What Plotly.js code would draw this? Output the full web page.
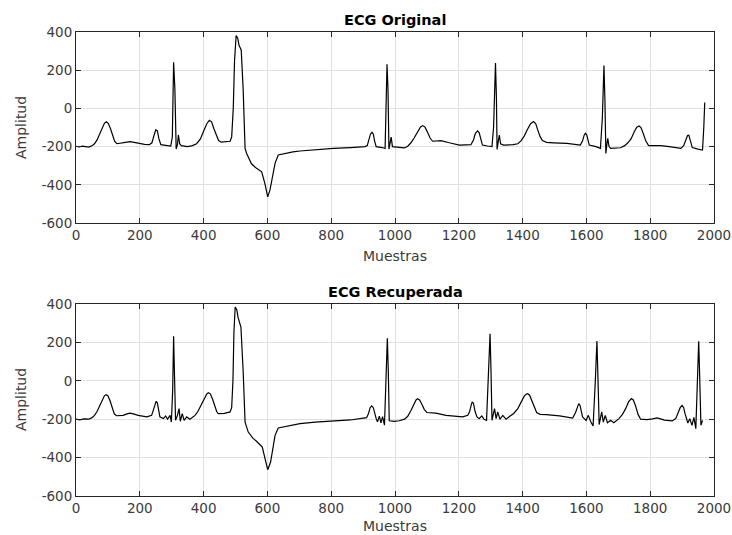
<!DOCTYPE html>
<html><head><meta charset="utf-8">
<script src="https://cdn.plot.ly/plotly-3.0.1.min.js"></script>
<style>html,body{margin:0;padding:0;background:#fff}#chart{width:732px;height:535px}</style>
</head><body><div id="chart"></div>
<script>
// [muestra, amplitud]
const origPts = [[0,-198],[10,-202],[20,-198],[30,-200],[40,-203],[50,-196],[58,-185],[66,-165],[74,-135],[82,-100],[89,-78],[95,-70],[101,-78],[108,-105],[115,-145],[121,-172],[128,-185],[140,-183],[155,-178],[170,-174],[185,-180],[200,-185],[215,-188],[230,-190],[238,-180],[244,-145],[250,-112],[255,-118],[260,-160],[266,-190],[280,-195],[297,-197],[302,-150],[306,242],[310,100],[314,-213],[318,-190],[321,-139],[325,-185],[330,-195],[350,-200],[365,-195],[378,-185],[390,-160],[400,-120],[410,-80],[418,-62],[425,-70],[432,-105],[440,-145],[447,-168],[455,-177],[470,-176],[483,-172],[488,-150],[493,0],[497,250],[502,382],[507,368],[511,330],[515,316],[518,305],[524,100],[530,-209],[535,-236],[550,-290],[566,-314],[582,-332],[592,-393],[601,-463],[608,-428],[616,-350],[624,-288],[634,-244],[650,-238],[680,-228],[702,-223],[750,-215],[807,-209],[860,-205],[906,-200],[913,-195],[918,-170],[923,-135],[928,-125],[932,-135],[936,-170],[941,-200],[960,-205],[969,-210],[975,231],[978,100],[981,-213],[985,-180],[988,-150],[992,-200],[1010,-205],[1029,-207],[1040,-198],[1050,-180],[1060,-155],[1070,-122],[1080,-97],[1087,-90],[1094,-98],[1102,-125],[1110,-155],[1118,-172],[1130,-172],[1144,-169],[1170,-180],[1202,-192],[1238,-190],[1246,-165],[1252,-130],[1259,-118],[1264,-128],[1269,-165],[1274,-192],[1290,-197],[1304,-200],[1309,-100],[1315,237],[1318,50],[1320,-215],[1324,-170],[1327,-140],[1331,-185],[1340,-192],[1370,-190],[1385,-185],[1395,-170],[1405,-145],[1415,-110],[1425,-80],[1434,-69],[1441,-80],[1448,-115],[1455,-148],[1462,-168],[1475,-178],[1497,-180],[1539,-183],[1581,-192],[1588,-170],[1593,-140],[1597,-130],[1601,-138],[1605,-170],[1609,-192],[1630,-200],[1644,-209],[1650,-50],[1655,225],[1658,50],[1661,-236],[1664,-190],[1667,-157],[1671,-200],[1676,-209],[1707,-206],[1720,-195],[1730,-180],[1740,-160],[1750,-122],[1758,-98],[1765,-92],[1771,-100],[1778,-130],[1786,-170],[1795,-195],[1833,-195],[1860,-200],[1896,-209],[1905,-195],[1911,-165],[1917,-142],[1921,-140],[1926,-165],[1932,-205],[1950,-213],[1964,-218],[1968,-100],[1971,31]];
const recPts = [[0,-200],[12,-203],[25,-198],[40,-200],[50,-192],[58,-180],[66,-160],[74,-130],[82,-98],[89,-78],[94,-72],[100,-78],[107,-105],[114,-145],[120,-172],[127,-182],[148,-180],[160,-172],[169,-168],[180,-172],[195,-180],[222,-188],[237,-180],[243,-150],[248,-115],[251,-107],[255,-115],[259,-160],[263,-188],[274,-197],[281,-183],[287,-200],[295,-180],[299,-215],[303,-50],[306,232],[309,50],[312,-206],[318,-180],[323,-145],[327,-211],[333,-171],[339,-206],[347,-188],[357,-200],[365,-192],[373,-180],[382,-160],[392,-125],[402,-88],[410,-68],[415,-62],[421,-68],[428,-95],[435,-135],[441,-160],[446,-171],[465,-170],[483,-162],[488,-140],[492,0],[495,250],[499,384],[504,370],[508,330],[512,306],[517,280],[524,50],[530,-215],[540,-267],[555,-300],[566,-315],[584,-345],[592,-402],[601,-463],[610,-423],[617,-350],[624,-284],[634,-246],[650,-240],[680,-230],[702,-223],[750,-215],[807,-209],[860,-204],[911,-192],[917,-170],[922,-140],[927,-131],[932,-140],[937,-175],[941,-197],[945,-213],[951,-184],[956,-219],[961,-187],[967,-231],[972,0],[976,221],[979,50],[982,-208],[998,-211],[1013,-208],[1030,-200],[1040,-185],[1050,-155],[1060,-120],[1066,-100],[1071,-93],[1077,-100],[1085,-125],[1092,-150],[1100,-165],[1128,-168],[1160,-180],[1212,-188],[1228,-180],[1234,-160],[1239,-125],[1242,-110],[1246,-118],[1251,-160],[1257,-188],[1264,-197],[1272,-183],[1279,-200],[1287,-206],[1293,0],[1298,245],[1301,50],[1304,-206],[1312,-145],[1317,-197],[1322,-162],[1329,-200],[1338,-180],[1348,-200],[1360,-185],[1372,-170],[1385,-145],[1395,-110],[1405,-80],[1411,-70],[1416,-67],[1422,-75],[1430,-105],[1437,-140],[1444,-165],[1455,-175],[1474,-176],[1516,-183],[1557,-194],[1566,-165],[1571,-135],[1576,-119],[1580,-128],[1584,-160],[1588,-188],[1599,-206],[1606,-180],[1614,-215],[1621,-235],[1628,0],[1633,207],[1636,30],[1640,-228],[1648,-162],[1653,-215],[1659,-180],[1666,-218],[1676,-206],[1686,-218],[1702,-197],[1713,-175],[1723,-145],[1732,-110],[1741,-93],[1747,-100],[1754,-130],[1762,-175],[1770,-200],[1790,-202],[1807,-198],[1822,-193],[1845,-205],[1869,-209],[1880,-197],[1887,-170],[1894,-140],[1900,-128],[1905,-140],[1909,-170],[1913,-197],[1918,-220],[1924,-197],[1931,-232],[1937,-190],[1943,-249],[1948,0],[1952,206],[1955,30],[1959,-232],[1964,-206]];
const xTicks = [0,200,400,600,800,1000,1200,1400,1600,1800,2000];
const yTicks = [-600,-400,-200,0,200,400];
const titles = ["ECG Original","ECG Recuperada"];
const xLabel = "Muestras", yLabel = "Amplitud";

const W = 732, H = 535;
const FONT = "DejaVu Sans, Liberation Sans, Arial, sans-serif";
const tickFont = {family:FONT, size:13.5, color:"#3a3a3a"};
function xa(anchor){return {domain:[76/W,714/W], range:[0,2000], tickvals:xTicks, ticktext:xTicks.map(String),
  showgrid:true, gridcolor:"#e0e0e0", gridwidth:1, zeroline:false, showline:true, linecolor:"#262626", linewidth:1,
  mirror:"allticks", ticks:"inside", ticklen:5, tickcolor:"#262626", tickfont:tickFont, anchor:anchor, fixedrange:true};}
function ya(dom, anchor){return {domain:dom, range:[-600,400], tickvals:yTicks, ticktext:yTicks.map(String),
  showgrid:true, gridcolor:"#e0e0e0", gridwidth:1, zeroline:false, showline:true, linecolor:"#262626", linewidth:1,
  mirror:"allticks", ticks:"inside", ticklen:5, tickcolor:"#262626", tickfont:tickFont, anchor:anchor, fixedrange:true};}
const d1 = [1-223/H, 1-32/H], d2 = [1-496/H, 1-304/H];
const lineStyle = {color:"#000000", width:1.2};
const data = [
  {x:origPts.map(p=>p[0]), y:origPts.map(p=>p[1]), type:"scatter", mode:"lines", line:lineStyle, xaxis:"x", yaxis:"y", hoverinfo:"skip"},
  {x:recPts.map(p=>p[0]), y:recPts.map(p=>p[1]), type:"scatter", mode:"lines", line:lineStyle, xaxis:"x2", yaxis:"y2", hoverinfo:"skip"}
];
const cx = (76+714)/2/W;
const ann = (text, x, y, opts) => Object.assign({text:text, x:x, y:y, xref:"paper", yref:"paper", showarrow:false,
  xanchor:"center", yanchor:"middle", font:{family:FONT, size:14, color:"#3a3a3a"}}, opts||{});
const titleFont = {family:FONT, size:14.5, color:"#000"};
const layout = {
  width:W, height:H, margin:{l:0,r:0,t:0,b:0}, paper_bgcolor:"#ffffff", plot_bgcolor:"#ffffff", showlegend:false,
  xaxis:xa("y"), yaxis:ya(d1,"x"), xaxis2:xa("y2"), yaxis2:ya(d2,"x2"),
  annotations:[
    ann("<b>"+titles[0]+"</b>", cx, 1-20/H, {font:titleFont}),
    ann("<b>"+titles[1]+"</b>", cx, 1-292/H, {font:titleFont}),
    ann(xLabel, cx, 1-256/H),
    ann(xLabel, cx, 1-526/H),
    ann(yLabel, 21/W, 1-128/H, {textangle:-90}),
    ann(yLabel, 21/W, 1-400/H, {textangle:-90})
  ]
};
Plotly.newPlot("chart", data, layout, {staticPlot:true, displayModeBar:false});
</script></body></html>
